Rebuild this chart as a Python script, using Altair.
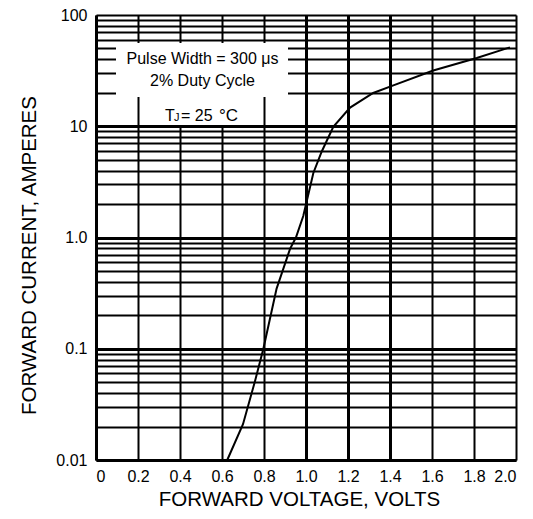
import altair as alt
import pandas as pd

# Forward characteristic
voltage = [0.625, 0.70, 0.757, 0.797, 0.860, 0.924, 0.952, 0.987, 1.035, 1.075,
           1.13, 1.21, 1.32, 1.416, 1.606, 1.813, 1.971]
current = [0.01, 0.021, 0.051, 0.10, 0.347, 0.79, 1.0, 1.56, 3.8, 5.93,
           9.9, 14.7, 19.9, 23.3, 31.7, 41.1, 51.2]

x_ticks = [0, 0.2, 0.4, 0.6, 0.8, 1.0, 1.2, 1.4, 1.6, 1.8, 2.0]
y_grid = [0.01, 0.02, 0.03, 0.04, 0.05, 0.06, 0.07, 0.08, 0.09,
          0.1, 0.2, 0.3, 0.4, 0.5, 0.6, 0.7, 0.8, 0.9,
          1, 2, 3, 4, 5, 6, 7, 8, 9,
          10, 20, 30, 40, 50, 60, 70, 80, 90, 100]
y_labels = {0.01: "0.01", 0.1: "0.1", 1: "1.0", 10: "10", 100: "100"}

note_lines = ["Pulse Width = 300 \u03bcs", "2% Duty Cycle"]
temp_parts = ["T", "J", "= 25", "\u00b0C"]

FONT = "Liberation Sans"
W, H = 420, 445

df = pd.DataFrame({"V": voltage, "I": current})
one = pd.DataFrame({"k": [0]})

label_expr = " : ".join(
    f"datum.value == {k} ? '{v}'" for k, v in y_labels.items()
) + " : ''"

x_enc = alt.X(
    "V:Q",
    scale=alt.Scale(domain=[0, 2.0], nice=False, zero=False),
    axis=alt.Axis(
        values=x_ticks,
        labelExpr="datum.value == 0 ? '0' : format(datum.value, '.1f')",
        title="FORWARD VOLTAGE, VOLTS",
        titleFont=FONT, titleFontSize=20.5, titleFontWeight="normal",
        titleColor="black", titleBaseline="alphabetic",
        titleX=203, titleY=45,
        labelFont=FONT, labelFontSize=16, labelColor="black",
        labelPadding=8, ticks=False, tickSize=0,
        grid=True, gridColor="black",
        gridWidth={"condition": {"test": "datum.value >= 0.99 && datum.value <= 1.41", "value": 3}, "value": 2},
        gridOpacity=1,
        domainColor="black", domainWidth=3,
        labelOverlap=False,
    ),
)
y_enc = alt.Y(
    "I:Q",
    scale=alt.Scale(type="log", domain=[0.01, 100], nice=False),
    axis=alt.Axis(
        values=y_grid,
        labelExpr=label_expr,
        title="FORWARD CURRENT, AMPERES",
        titleFont=FONT, titleFontSize=20.5, titleFontWeight="normal",
        titleColor="black", titleBaseline="alphabetic",
        titleX=-61, titleY=240, titleAngle=270,
        labelFont=FONT, labelFontSize=16, labelColor="black",
        labelPadding=9, ticks=False, tickSize=0,
        grid=True, gridColor="black",
        gridWidth={"condition": {"test": "datum.value == 0.1 || datum.value == 1 || datum.value == 10", "value": 3}, "value": 2},
        gridOpacity=1,
        domainColor="black", domainWidth=3,
        labelOverlap=False,
    ),
)

curve = alt.Chart(df).mark_line(color="black", strokeWidth=2).encode(x=x_enc, y=y_enc)

box_upper = alt.Chart(one).mark_rect(color="white").encode(
    x=alt.value(20), x2=alt.value(192), y=alt.value(28), y2=alt.value(82)
)
box_lower = alt.Chart(one).mark_rect(color="white").encode(
    x=alt.value(63), x2=alt.value(156), y=alt.value(82), y2=alt.value(110)
)

def txt(s, x, y, size=16, align="center"):
    return alt.Chart(one).mark_text(
        text=s, font=FONT, fontSize=size, color="black",
        align=align, baseline="alphabetic"
    ).encode(x=alt.value(x), y=alt.value(y))

texts = [
    txt(note_lines[0], 106.5, 49),
    txt(note_lines[1], 106.5, 71),
    txt(temp_parts[0], 69, 106, align="left"),
    txt(temp_parts[1], 78, 106, size=11, align="left"),
    txt(temp_parts[2], 85, 106, align="left"),
    txt(temp_parts[3], 123, 106, size=17, align="left"),
]

chart = alt.layer(curve, box_upper, box_lower, *texts).properties(
    width=W, height=H,
    autosize=alt.AutoSizeParams(type="none"),
    padding={"left": 88, "top": 7, "right": 9, "bottom": 51},
).configure_view(stroke="black", strokeWidth=2).configure(background="white")

chart.save("out.html", embed_options={"renderer": "svg", "actions": False})
